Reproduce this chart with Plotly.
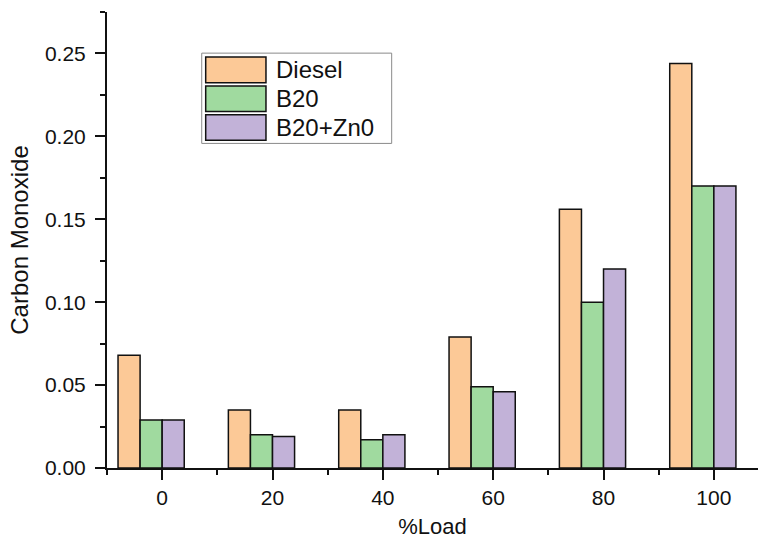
import plotly.graph_objects as go

loads = [0, 20, 40, 60, 80, 100]
tick_labels = ["0", "20", "40", "60", "80", "100"]
series_names = ["Diesel", "B20", "B20+Zn0"]
diesel = [0.068, 0.035, 0.035, 0.079, 0.156, 0.244]
b20 = [0.029, 0.020, 0.017, 0.049, 0.100, 0.170]
b20_zn0 = [0.029, 0.019, 0.020, 0.046, 0.120, 0.170]

series_values = [diesel, b20, b20_zn0]
colors = ["#FCC997", "#A0DA9F", "#C2B2D8"]
offsets = [-6, -2, 2]
bar_w = 4

fig = go.Figure()
for name, vals, col, off in zip(series_names, series_values, colors, offsets):
    fig.add_trace(go.Bar(
        x=[l + off for l in loads], y=vals, width=bar_w, name=name,
        marker=dict(color=col, line=dict(color="#111111", width=1.5)),
        showlegend=False,
    ))

font_family = "Liberation Sans, Arial, sans-serif"

# custom legend (large swatches like the reference)
shapes = [dict(type="rect", xref="paper", yref="paper",
               x0=0.1455, x1=0.4373, y0=0.7118, y1=0.9098,
               line=dict(color="#8a8a8a", width=1), fillcolor="white", layer="above")]
annotations = []
sw_top = [0.9011, 0.8378, 0.7745]
sw_h = 0.0560
for name, col, top in zip(series_names, colors, sw_top):
    shapes.append(dict(type="rect", xref="paper", yref="paper",
                       x0=0.1516, x1=0.2442, y0=top - sw_h, y1=top,
                       line=dict(color="#111111", width=1.5), fillcolor=col, layer="above"))
    annotations.append(dict(xref="paper", yref="paper", x=0.2565, y=top - sw_h / 2,
                            text=name, showarrow=False, xanchor="left", yanchor="middle",
                            font=dict(family=font_family, size=24, color="#111111")))

fig.update_layout(
    width=758, height=539,
    margin=dict(l=107, r=0, t=12, b=69),
    paper_bgcolor="white", plot_bgcolor="white",
    barmode="overlay",
    font=dict(family=font_family, color="#111111"),
    shapes=shapes, annotations=annotations,
    xaxis=dict(
        range=[-10, 108], tickmode="array", tickvals=loads, ticktext=tick_labels,
        showgrid=False, zeroline=False, showline=True, linecolor="#111111", linewidth=2,
        ticks="outside", ticklen=10, tickwidth=2, tickcolor="#111111",
        tickfont=dict(size=21), ticklabelstandoff=0,
        minor=dict(tickvals=[-10, 10, 30, 50, 70, 90], ticks="outside", ticklen=5,
                   tickwidth=1.5, tickcolor="#111111", showgrid=False),
        title=dict(text="%Load", font=dict(size=22), standoff=14),
    ),
    yaxis=dict(
        range=[0, 0.275], tick0=0, dtick=0.05, tickformat=".2f",
        showgrid=False, zeroline=False, showline=True, linecolor="#111111", linewidth=2,
        ticks="outside", ticklen=10, tickwidth=2, tickcolor="#111111",
        tickfont=dict(size=21), ticklabelstandoff=5,
        minor=dict(tick0=0, dtick=0.025, ticks="outside", ticklen=5,
                   tickwidth=1.5, tickcolor="#111111", showgrid=False),
        title=dict(text="Carbon Monoxide", font=dict(size=24), standoff=10),
    ),
)

fig.write_html("out.html")
